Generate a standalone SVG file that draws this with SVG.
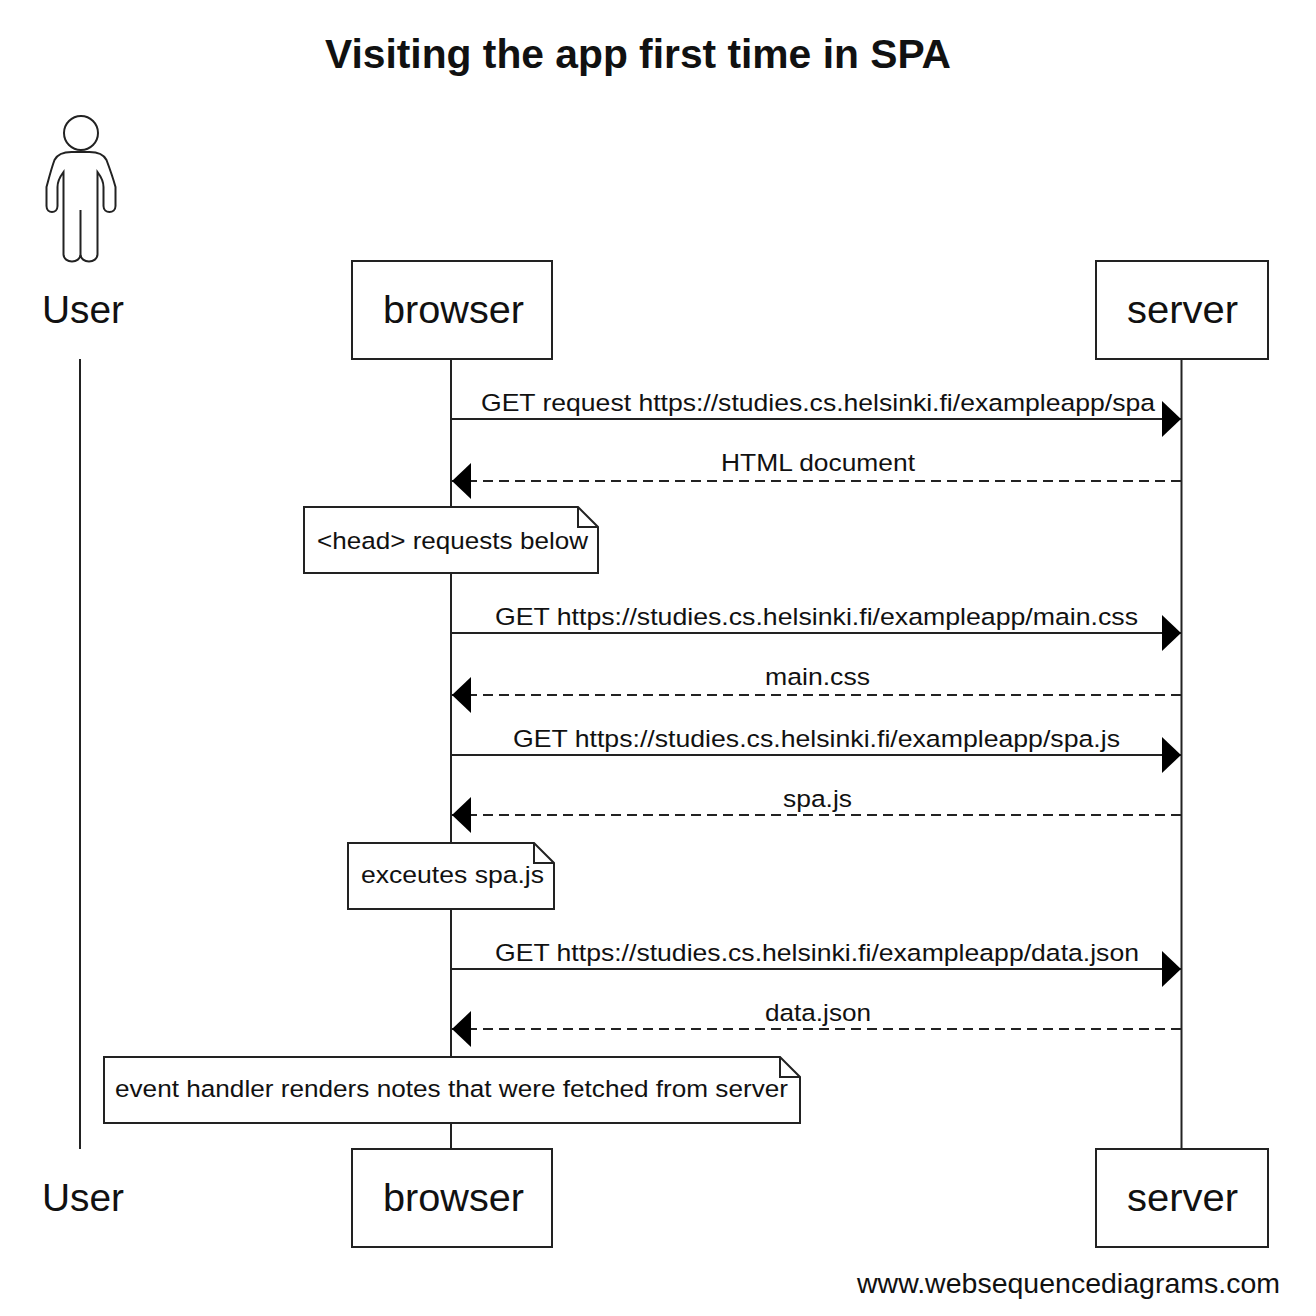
<svg xmlns="http://www.w3.org/2000/svg" width="1316" height="1316" viewBox="0 0 1316 1316">
<style>
text{font-family:"Liberation Sans",Arial,sans-serif;fill:#111}
.t{font-size:24.500px}.b{font-size:39.500px;text-anchor:middle}.m{font-size:24.500px;text-anchor:middle}
.box{fill:#fff;stroke:#222;stroke-width:2}
.l{stroke:#222;stroke-width:2;fill:none}
.d{stroke-dasharray:10 6}
</style>
<defs><marker id="a" markerUnits="userSpaceOnUse" markerWidth="20" markerHeight="36" refX="19" refY="18" orient="auto"><path d="M0 0L19 18L0 36Z" fill="#000"/></marker></defs>
<rect width="1316" height="1316" fill="#fff"/>
<text x="638" y="68" font-size="40" font-weight="bold" text-anchor="middle" textLength="626" lengthAdjust="spacingAndGlyphs">Visiting the app first time in SPA</text>
<g id="lifelines">
<path class="l" d="M80 359V1149M451 359V1149M1181.500 359V1149"/>
</g>
<g id="connectors">
<path class="l" marker-end="url(#a)" d="M451 419H1181"/>
<path class="l d" marker-end="url(#a)" d="M1181 481H452"/>
<path class="l" marker-end="url(#a)" d="M451 633H1181"/>
<path class="l d" marker-end="url(#a)" d="M1181 695H452"/>
<path class="l" marker-end="url(#a)" d="M451 755H1181"/>
<path class="l d" marker-end="url(#a)" d="M1181 815H452"/>
<path class="l" marker-end="url(#a)" d="M451 969H1181"/>
<path class="l d" marker-end="url(#a)" d="M1181 1029H452"/>
<text class="m" x="818" y="411" textLength="674" lengthAdjust="spacingAndGlyphs">GET request https://studies.cs.helsinki.fi/exampleapp/spa</text>
<text class="m" x="818" y="471" textLength="194" lengthAdjust="spacingAndGlyphs">HTML document</text>
<text class="m" x="816.500" y="625" textLength="643" lengthAdjust="spacingAndGlyphs">GET https://studies.cs.helsinki.fi/exampleapp/main.css</text>
<text class="m" x="817.500" y="685" textLength="105" lengthAdjust="spacingAndGlyphs">main.css</text>
<text class="m" x="816.500" y="747" textLength="607" lengthAdjust="spacingAndGlyphs">GET https://studies.cs.helsinki.fi/exampleapp/spa.js</text>
<text class="m" x="817.500" y="807" textLength="69" lengthAdjust="spacingAndGlyphs">spa.js</text>
<text class="m" x="817" y="961" textLength="644" lengthAdjust="spacingAndGlyphs">GET https://studies.cs.helsinki.fi/exampleapp/data.json</text>
<text class="m" x="818" y="1021" textLength="106" lengthAdjust="spacingAndGlyphs">data.json</text>
</g>
<g id="user-top">
<circle class="l" cx="81" cy="133" r="17"/>
<path class="l" d="M80.500 210V254C80.500 264 63.500 264 63.500 254V172C60.500 176 57.500 182 57.500 187V206C57.500 214 46.500 214 46.500 206V187C49.500 176 51.500 168 54.500 160C56.500 156 61.500 152 71.500 152H89.500C99.500 152 104.500 156 106.500 160C109.500 168 112.500 176 115.500 187V206C115.500 214 103.500 214 103.500 206V187C103.500 182 100.500 176 97.500 172V254C97.500 264 80.500 264 80.500 254"/>
<text class="b" x="83" y="323" textLength="82" lengthAdjust="spacingAndGlyphs">User</text>
</g>
<g id="browser-top"><rect class="box" x="352" y="261" width="200" height="98"/><text class="b" x="453.500" y="323" textLength="141" lengthAdjust="spacingAndGlyphs">browser</text></g>
<g id="server-top"><rect class="box" x="1096" y="261" width="172" height="98"/><text class="b" x="1182.500" y="323" textLength="111" lengthAdjust="spacingAndGlyphs">server</text></g>
<g id="note-head"><path class="box" d="M304 507H578L598 527V573H304Z"/><path class="l" d="M578 507V527H598"/><text class="t" x="317" y="549" textLength="271" lengthAdjust="spacingAndGlyphs">&lt;head&gt; requests below</text></g>
<g id="note-exec"><path class="box" d="M348 843H534L554 863V909H348Z"/><path class="l" d="M534 843V863H554"/><text class="t" x="361" y="883" textLength="183" lengthAdjust="spacingAndGlyphs">exceutes spa.js</text></g>
<g id="note-render"><path class="box" d="M104 1057H780L800 1077V1123H104Z"/><path class="l" d="M780 1057V1077H800"/><text class="t" x="115" y="1097" textLength="673" lengthAdjust="spacingAndGlyphs">event handler renders notes that were fetched from server</text></g>
<g id="user-bottom"><text class="b" x="83" y="1211" textLength="82" lengthAdjust="spacingAndGlyphs">User</text></g>
<g id="browser-bottom"><rect class="box" x="352" y="1149" width="200" height="98"/><text class="b" x="453.500" y="1211" textLength="141" lengthAdjust="spacingAndGlyphs">browser</text></g>
<g id="server-bottom"><rect class="box" x="1096" y="1149" width="172" height="98"/><text class="b" x="1182.500" y="1211" textLength="111" lengthAdjust="spacingAndGlyphs">server</text></g>
<text x="857" y="1293" font-size="27.500" textLength="423" lengthAdjust="spacingAndGlyphs">www.websequencediagrams.com</text>
</svg>
